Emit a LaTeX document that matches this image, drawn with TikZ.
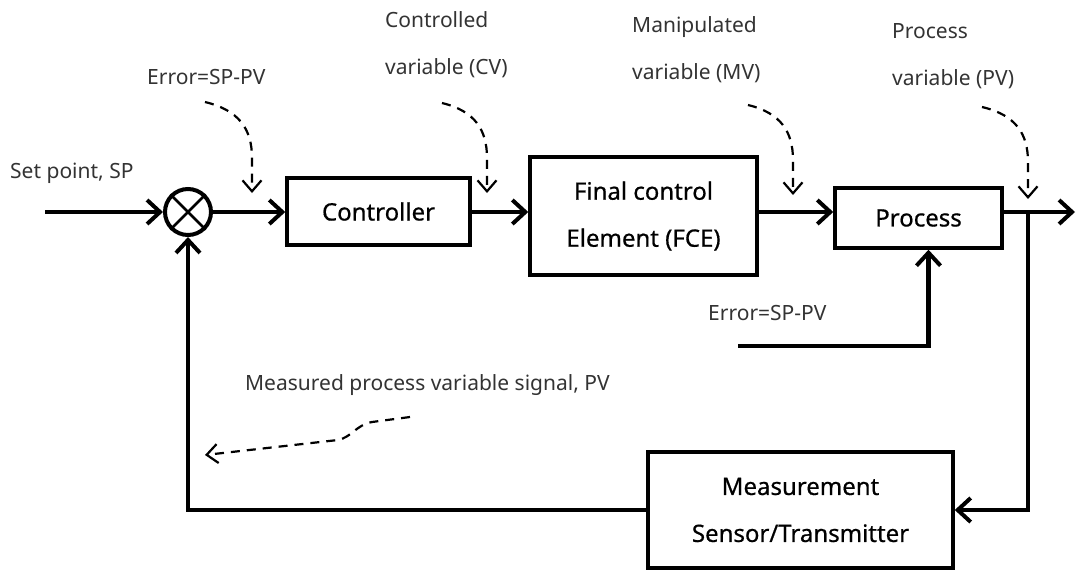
\documentclass[tikz,border=0pt]{standalone}
\usepackage{fontspec}
\setmainfont{Noto Sans}
\newfontfamily\blockfont{Noto Sans}[FakeBold=0.6]
\usetikzlibrary{arrows.meta}
\definecolor{labelgray}{HTML}{333333}
\tikzset{
  block/.style={draw, line width=3.5pt, inner sep=0pt, align=center,
                font=\blockfont\fontsize{24}{47}\selectfont},
  flow/.style={line width=4.5pt, -{Straight Barb[length=13pt,width=24pt,line width=4pt]}},
  hint/.style={line width=2.2pt, dash pattern=on 9pt off 7pt,
               -{Straight Barb[length=11pt,width=19pt,line width=2.2pt]}},
  note/.style={text=labelgray, inner sep=0pt, align=left,
               font=\fontsize{21}{47}\selectfont},
}
\begin{document}
\begin{tikzpicture}[x=1pt,y=-1pt]
\useasboundingbox (0,0) rectangle (1077,573);

% summing junction
\node[circle, draw, line width=4pt, minimum size=46pt, inner sep=0pt] (sum) at (188,212) {};
\draw[line width=2.5pt] (sum.north west) -- (sum.south east)
                         (sum.north east) -- (sum.south west);

% blocks
\node[block, minimum width=183pt, minimum height=67pt] (ctrl) at (378.5,211.5) {Controller};
\node[block, minimum width=227pt, minimum height=118pt] (fce) at (643.5,216) {Final control\\Element (FCE)};
\node[block, minimum width=167pt, minimum height=60pt] (proc) at (918.5,218) {Process};
\node[block, minimum width=305pt, minimum height=116pt] (meas) at (800.5,510) {Measurement\\Sensor/Transmitter};

% forward path
\coordinate (spin) at (45,212);
\coordinate (tap) at (1028,212);
\coordinate (outend) at (1075,212);
\coordinate (dist) at (738,346);
\draw[flow] (spin) -- (sum.west);
\draw[flow] (sum.east) -- (ctrl.west |- sum);
\draw[flow] (ctrl.east |- sum) -- (fce.west |- sum);
\draw[flow] (fce.east |- sum) -- (proc.west |- sum);
\draw[flow] (proc.east |- sum) -- (outend);

% disturbance input into the process
\draw[flow] (dist) -| ([xshift=10pt]proc.south);

% feedback path
\draw[flow] (tap) |- (meas.east);
\draw[flow] (meas.west) -| (sum.south);

% text labels
\node[note, anchor=west] (sp) at (10,173) {Set point, SP};
\node[note, anchor=west] (err1) at (147,77) {Error=SP-PV};
\node[note, anchor=west] (cv) at (385,45) {Controlled\\variable (CV)};
\node[note, anchor=west] (mv) at (632,50) {Manipulated\\variable (MV)};
\node[note, anchor=west] (pv) at (892,56) {Process\\variable (PV)};
\node[note, anchor=west] (err2) at (708,313) {Error=SP-PV};
\node[note, anchor=west] (mpv) at (245,385) {Measured process variable signal, PV};

% dashed pointers
\coordinate (h1) at (205,102);
\coordinate (h2) at (442,103);
\coordinate (h3) at (748,105);
\coordinate (h4) at (982,107);
\coordinate (h5) at (410,417);
\coordinate (t1) at (252,193);
\coordinate (t2) at (487,193);
\coordinate (t3) at (793,195);
\coordinate (t4) at (1028,199);
\coordinate (t5) at (205,455);
\draw[hint] (h1) .. controls (238,110) and (252,128) .. (252,158) -- (t1);
\draw[hint] (h2) .. controls (475,111) and (487,130) .. (487,158) -- (t2);
\draw[hint] (h3) .. controls (781,113) and (793,132) .. (793,160) -- (t3);
\draw[hint] (h4) .. controls (1016,115) and (1028,134) .. (1028,162) -- (t4);
\draw[hint] (h5) -- (372,422) .. controls (356,425) and (352,437) .. (338,440) -- (t5);
\end{tikzpicture}
\end{document}
